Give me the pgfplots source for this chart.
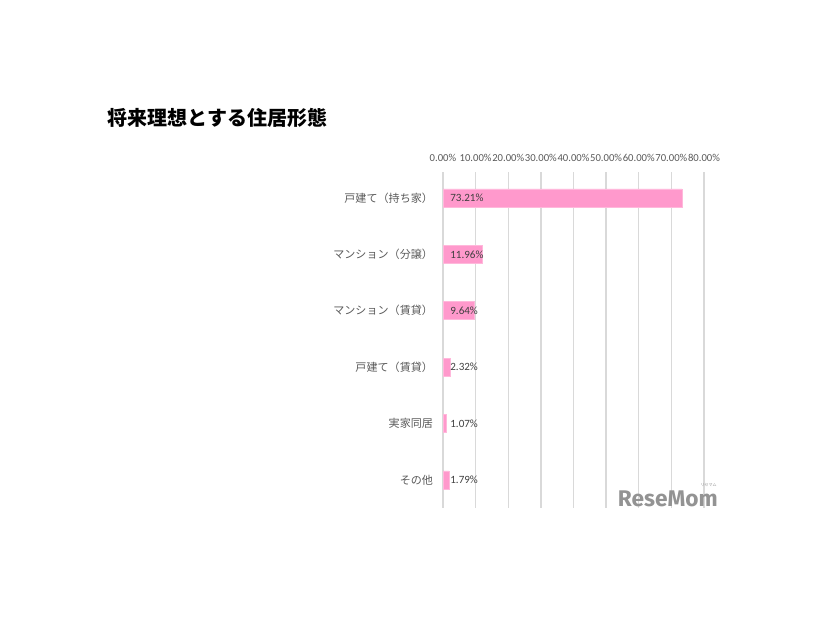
\documentclass[border=0pt]{standalone}
\usepackage{fontspec}
\setmainfont{Carlito}
\newfontfamily\cjk{Noto Sans CJK JP}
\newfontfamily\logo{Fira Sans}
\usepackage{pgfplots}
\pgfplotsset{compat=1.18}
\definecolor{barpink}{RGB}{255,153,204}
\definecolor{gridgray}{RGB}{217,217,217}
\definecolor{labgray}{RGB}{89,89,89}
\definecolor{valgray}{RGB}{64,64,64}
\begin{document}
\begin{tikzpicture}
% 1 px of the reference = 0.75pt
\path[use as bounding box] (0pt,0pt) rectangle (619.5pt,-465pt);
\node[anchor=west,font={\cjk\bfseries\fontsize{15}{18}\selectfont}] at (77.25pt,-88.5pt) {将来理想とする住居形態};
\begin{axis}[
  at={(332.25pt,-129pt)}, anchor=north west,
  width=195.75pt, height=252pt, scale only axis,
  xmin=0, xmax=80, ymin=-0.46, ymax=5.5,
  y dir=reverse,
  axis line style={draw=none},
  xtick={0,10,...,80},
  xticklabel pos=top,
  xticklabel={\pgfmathprintnumber[fixed,fixed zerofill,precision=2]{\tick}\%},
  xticklabel style={font=\fontsize{8}{9}\selectfont, text=labgray, yshift=4pt},
  ytick={0,...,5},
  yticklabels={戸建て（持ち家）,マンション（分譲）,マンション（賃貸）,戸建て（賃貸）,実家同居,その他},
  yticklabel style={font={\cjk\fontsize{8.3}{10}\selectfont}, text=labgray, xshift=-4pt},
  major tick length=0pt,
  xmajorgrids, grid style={gridgray, line width=1.1pt},
  /pgf/number format/assume math mode=true,
  clip=false,
]
\addplot[xbar, bar width=13.5pt, fill=barpink, draw=barpink!70!white] coordinates {
  (73.21,0) (11.96,1) (9.64,2) (2.32,3) (1.07,4) (1.79,5)
};
\addplot[only marks, mark=none, draw=none,
  nodes near coords, point meta=explicit symbolic,
  every node near coord/.append style={anchor=west, xshift=2pt, font=\fontsize{8.3}{10}\selectfont, text=valgray}]
  coordinates {
  (0,0) [73.21\%] (0,1) [11.96\%] (0,2) [9.64\%] (0,3) [2.32\%] (0,4) [1.07\%] (0,5) [1.79\%]
};
\end{axis}
\node[anchor=south east, inner sep=0pt, text=gray!85, font={\logo\bfseries\fontsize{17}{20}\selectfont}] at (538.5pt,-380.25pt) {ReseMom};
\node[anchor=south east, inner sep=0pt, text=gray!85, font={\cjk\fontsize{3}{4}\selectfont}] at (537.75pt,-365.25pt) {リセマム};
\end{tikzpicture}
\end{document}
